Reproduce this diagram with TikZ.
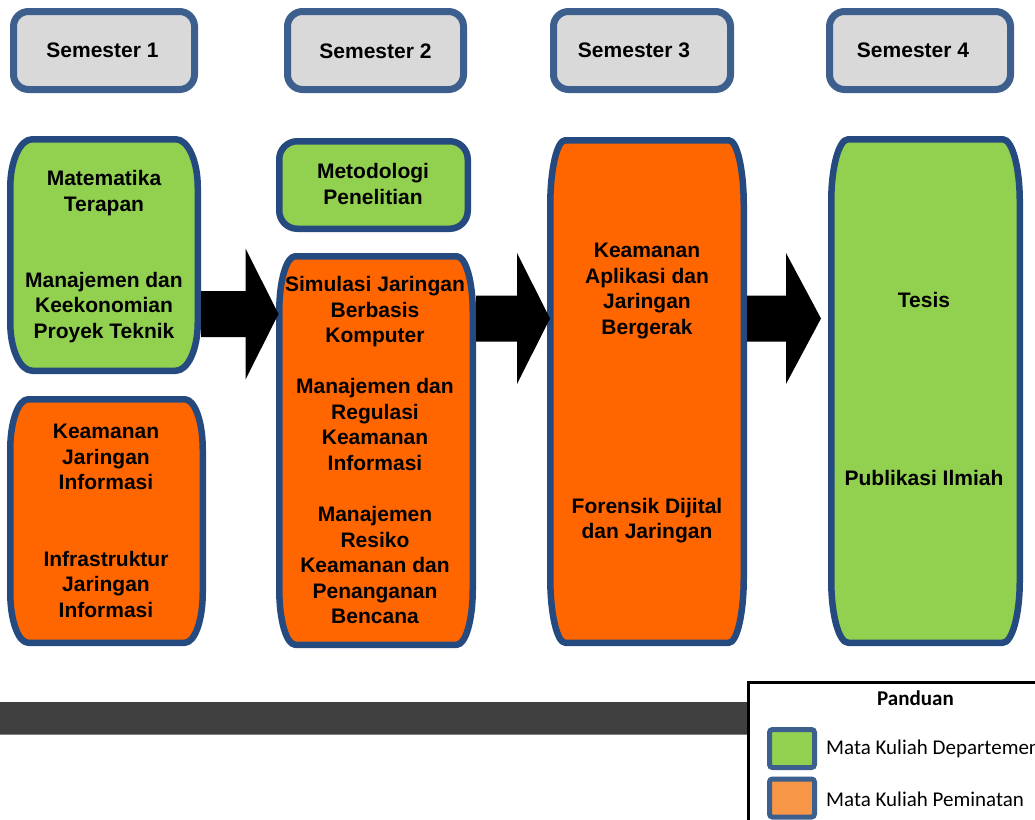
\documentclass[tikz,border=0pt]{standalone}
\usepackage{fontspec}
\setmainfont{Liberation Sans}
\newfontfamily\legendfont{Carlito}
\usetikzlibrary{calc}
\definecolor{grn}{HTML}{92D050}
\definecolor{org}{HTML}{FF6600}
\definecolor{bordblue}{HTML}{254A80}
\definecolor{semblue}{HTML}{3C5F8E}
\definecolor{semgray}{HTML}{D9D9D9}
\definecolor{legorange}{HTML}{F79646}
\definecolor{barcol}{HTML}{404040}

\newcommand\BarrelBox[8]{%
  \node[boxanchor, minimum width={(#4-#2)*1pt}, minimum height={(#5-#3)*1pt}] (#1) at ({(#2+#4)/2},{(#3+#5)/2}) {};
  \pgfmathsetmacro\BxL{#2+3.25}%
  \pgfmathsetmacro\BxT{#3+3.25}%
  \pgfmathsetmacro\BxR{#4-3.25}%
  \pgfmathsetmacro\BxB{#5-3.25}%
  \pgfmathsetmacro\BxKx{0.4477*#6}%
  \pgfmathsetmacro\BxKy{0.4477*#7}%
  \draw[boxline, fill=#8] (\BxL+#6,\BxT) -- (\BxR-#6,\BxT)
    .. controls (\BxR-\BxKx,\BxT) and (\BxR,\BxT+\BxKy) .. (\BxR,\BxT+#7)
    -- (\BxR,\BxB-#7)
    .. controls (\BxR,\BxB-\BxKy) and (\BxR-\BxKx,\BxB) .. (\BxR-#6,\BxB)
    -- (\BxL+#6,\BxB)
    .. controls (\BxL+\BxKx,\BxB) and (\BxL,\BxB-\BxKy) .. (\BxL,\BxB-#7)
    -- (\BxL,\BxT+#7)
    .. controls (\BxL,\BxT+\BxKy) and (\BxL+\BxKx,\BxT) .. (\BxL+#6,\BxT)
    -- cycle;
}
\newcommand\BlockArrow[3]{%
  \fill[arrowfill] ($(#1)+(0,-23)$) -- ($(#2)+(-#3,-23)$) -- ($(#2)+(-#3,-65.5)$)
    -- (#2) -- ($(#2)+(-#3,65.5)$) -- ($(#2)+(-#3,23)$) -- ($(#1)+(0,23)$) -- cycle;
}

\begin{document}
\begin{tikzpicture}[x=1pt,y=-1pt,
  boxline/.style={draw=bordblue, line width=6.5pt, line join=round},
  boxanchor/.style={inner sep=0pt, outer sep=0pt},
  semframe/.style={draw=semblue, fill=semgray, line width=7pt, rounded corners=15pt, inner sep=0pt},
  lbl/.style={font=\bfseries\fontsize{21}{25.5}\selectfont, align=center, inner sep=0pt},
  arrowfill/.style={fill=black},
  swatch/.style={draw=semblue, line width=5pt, rounded corners=3pt, minimum width=45pt, minimum height=38pt, inner sep=0pt},
  legtext/.style={font=\legendfont\fontsize{21}{24}\selectfont, inner sep=0pt}]
\useasboundingbox (0,0) rectangle (1035,819);
\clip (0,0) rectangle (1035,819);

% semester headers
\node[semframe, minimum width=181pt, minimum height=78pt] (sem1) at (104,50.5) {};
\node[semframe, minimum width=176pt, minimum height=78pt] (sem2) at (375.5,50.5) {};
\node[semframe, minimum width=177pt, minimum height=78pt] (sem3) at (642,50.5) {};
\node[semframe, minimum width=181pt, minimum height=78pt] (sem4) at (920,50.5) {};
\node[lbl] (sem1t) at (102.5,50) {Semester 1};
\node[lbl] (sem2t) at (375.5,51) {Semester 2};
\node[lbl] (sem3t) at (634,50) {Semester 3};
\node[lbl] (sem4t) at (913,50) {Semester 4};

% course boxes
\BarrelBox{m1}{7}{136}{201}{374}{22}{48}{grn}
\BarrelBox{k1}{7}{396}{206}{646}{18}{50}{org}
\BarrelBox{mp}{276}{138}{471}{232}{18}{18}{grn}
\BarrelBox{s2}{276}{253}{476}{648}{16}{55}{org}
\BarrelBox{k3}{547}{137}{747}{646}{15}{65}{org}
\BarrelBox{t4}{828}{136}{1023}{646}{17}{62}{grn}

% texts
\node[lbl] (m1a) at (104,193) {Matematika\\Terapan};
\node[lbl] (m1b) at (104,307.5) {Manajemen dan\\Keekonomian\\Proyek Teknik};
\node[lbl] (k1a) at (106,457) {Keamanan\\Jaringan\\Informasi};
\node[lbl] (k1b) at (106,584) {Infrastruktur\\Jaringan\\Informasi};
\node[lbl] (mpa) at (373,184) {Metodologi\\Penelitian};
\node[lbl] (s2a) at (375,312) {Simulasi Jaringan\\Berbasis\\Komputer};
\node[lbl] (s2b) at (375,424.5) {Manajemen dan\\Regulasi\\Keamanan\\Informasi};
\node[lbl] (s2c) at (375,565) {Manajemen\\Resiko\\Keamanan dan\\Penanganan\\Bencana};
\node[lbl] (k3a) at (647,291) {Keamanan\\Aplikasi dan\\Jaringan\\Bergerak};
\node[lbl] (k3b) at (647,520.5) {Forensik Dijital\\dan Jaringan};
\node[lbl] (t4a) at (924,300) {Tesis};
\node[lbl] (t4b) at (924,478) {Publikasi Ilmiah};

% block arrows
\coordinate (row1) at (0,314);
\coordinate (row2) at (0,318.5);
\coordinate (a1s) at (m1.east |- row1);
\coordinate (a1e) at ($(s2.west |- row1)+(2.5,0)$);
\coordinate (a2s) at (s2.east |- row2);
\coordinate (a2e) at ($(k3.west |- row2)+(3,0)$);
\coordinate (a3s) at (k3.east |- row2);
\coordinate (a3e) at ($(t4.west |- row2)+(-7,0)$);
\BlockArrow{a1s}{a1e}{33}
\BlockArrow{a2s}{a2e}{33}
\BlockArrow{a3s}{a3e}{35}

% bottom bar
\fill[barcol] (0,702) rectangle (747,734);
\draw[gray, line width=1pt] (0,734) -- (747,734);

% legend
\draw[line width=3pt, fill=white] (748.5,682.5) rectangle (1045,830);
\node[legtext, font=\legendfont\bfseries\fontsize{21}{24}\selectfont, anchor=base] (pand) at (915.5,705) {Panduan};
\node[swatch, fill=grn] (swg) at (792,748.5) {};
\node[swatch, fill=legorange] (swo) at (792,798) {};
\node[legtext, anchor=base west] (lg1) at (826,754) {Mata Kuliah Departemen};
\node[legtext, anchor=base west] (lg2) at (826,806.5) {Mata Kuliah Peminatan};
\end{tikzpicture}
\end{document}
